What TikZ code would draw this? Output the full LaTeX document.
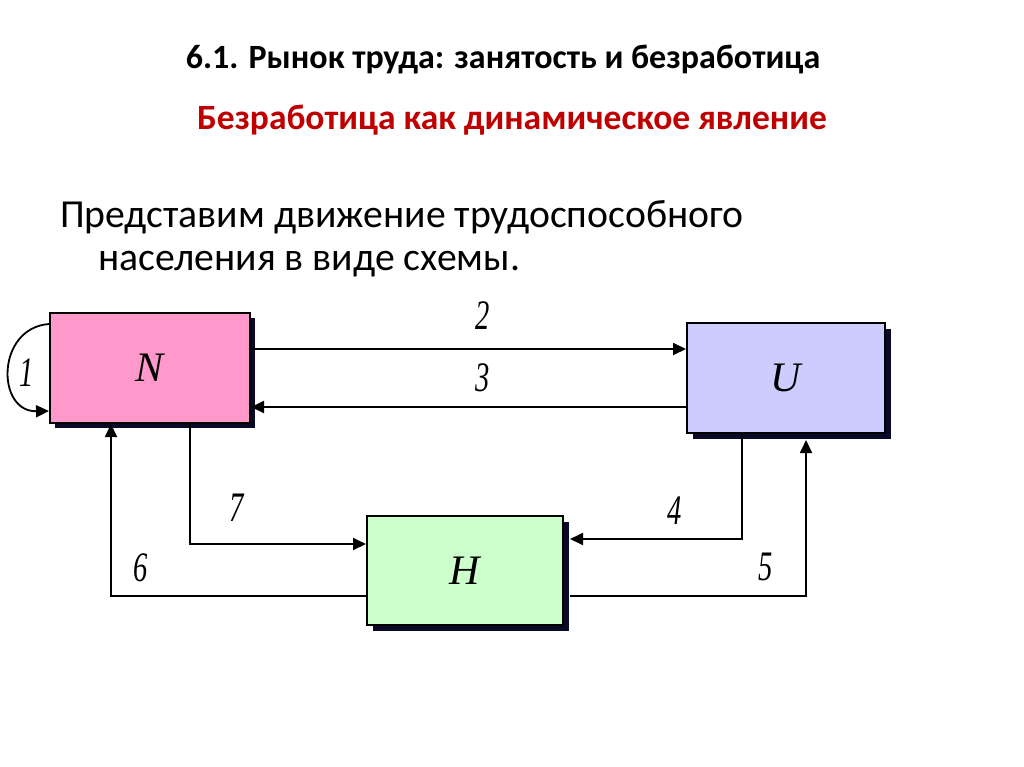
\documentclass[tikz,border=0pt]{standalone}
\usepackage{fontspec}
\setmainfont{Carlito}
\newfontfamily\labfont{Liberation Serif}
\usetikzlibrary{arrows.meta,calc}
\definecolor{npink}{HTML}{FF99CC}
\definecolor{ulav}{HTML}{CCCCFF}
\definecolor{hgreen}{HTML}{CCFFCC}
\definecolor{titlered}{HTML}{C00000}
\definecolor{shadowc}{HTML}{0A0A28}
\tikzset{
  blockbox/.style={draw=black, line width=2pt, inner sep=0pt,
    font=\labfont\itshape\fontsize{42}{42}\selectfont},
  arr/.style={line width=1.8pt, -{Triangle[length=13pt,width=12pt]}},
  numlab/.style={font=\labfont\itshape\fontsize{42}{42}\selectfont, xscale=0.68, inner sep=0pt}
}
\begin{document}
\begin{tikzpicture}[x=1pt,y=-1pt]
\useasboundingbox[fill=white] (0,0) rectangle (1024,767);
% titles
\node[font=\bfseries\fontsize{34}{40}\selectfont] (t1) at (503,60) {6.1. Рынок труда: занятость и безработица};
\node[font=\bfseries\fontsize{35.5}{40}\selectfont, text=titlered] (t2) at (512,120) {Безработица как динамическое явление};
\node[font=\fontsize{39.7}{46}\selectfont, anchor=base west, inner sep=0pt] (b1) at (60,228) {Представим движение трудоспособного};
\node[font=\fontsize{39.7}{46}\selectfont, anchor=base west, inner sep=0pt] (b2) at (98,270) {населения в виде схемы.};
% shadows
\fill[shadowc] (55,318) rectangle (255,428);
\fill[shadowc] (693,329) rectangle (891,439);
\fill[shadowc] (373,522) rectangle (569,631);
% boxes
\node[blockbox, fill=npink, minimum width=200pt, minimum height=110pt] (N) at (150,368) {N};
\node[blockbox, fill=ulav, minimum width=198pt, minimum height=110pt] (U) at (786,378) {U};
\node[blockbox, fill=hgreen, minimum width=196pt, minimum height=109pt] (H) at (465,570.5) {H};
% coordinates
\coordinate (n2) at ([yshift=-37pt]N.north east);
\coordinate (u2) at ([yshift=-27pt]U.north west);
\coordinate (u3) at ([yshift=-85pt]U.north west);
\coordinate (n3) at ([yshift=-95pt]N.north east);
% 2 and 3
\draw[arr] (n2) -- (n2 -| u2);
\draw[arr] (u3) -- (u3 -| n3);
% 1
\coordinate (n1a) at ([yshift=-12pt]N.north west);
\coordinate (n1b) at ([yshift=13pt]N.south west);
\draw[arr] (n1a) .. controls (-4,328) and (-4,412) .. (n1b);
% 7
\coordinate (n7) at ([xshift=40pt]N.south);
\coordinate (h7) at ([yshift=-29pt]H.north west);
\draw[arr] (n7) |- (h7);
% 6
\coordinate (h6) at ([yshift=30pt]H.south west);
\coordinate (n6) at ([xshift=-39pt]N.south);
\draw[arr] (h6) -| (n6);
% 4
\coordinate (u4) at ([xshift=-44pt]U.south);
\coordinate (h4) at ([xshift=6pt,yshift=-24pt]H.north east);
\draw[arr] (u4) |- (h4);
% 5
\coordinate (h5) at ([xshift=6pt,yshift=30pt]H.south east);
\coordinate (u5) at ([xshift=20pt,yshift=-6pt]U.south);
\draw[arr] (h5) -| (u5);
% labels
\node[numlab] (l1) at (27,373) {1};
\node[numlab] (l2) at (483,316) {2};
\node[numlab] (l3) at (483,378) {3};
\node[numlab] (l4) at (675,511) {4};
\node[numlab] (l5) at (766,567) {5};
\node[numlab] (l6) at (141,568) {6};
\node[numlab] (l7) at (237,508) {7};
\end{tikzpicture}
\end{document}
